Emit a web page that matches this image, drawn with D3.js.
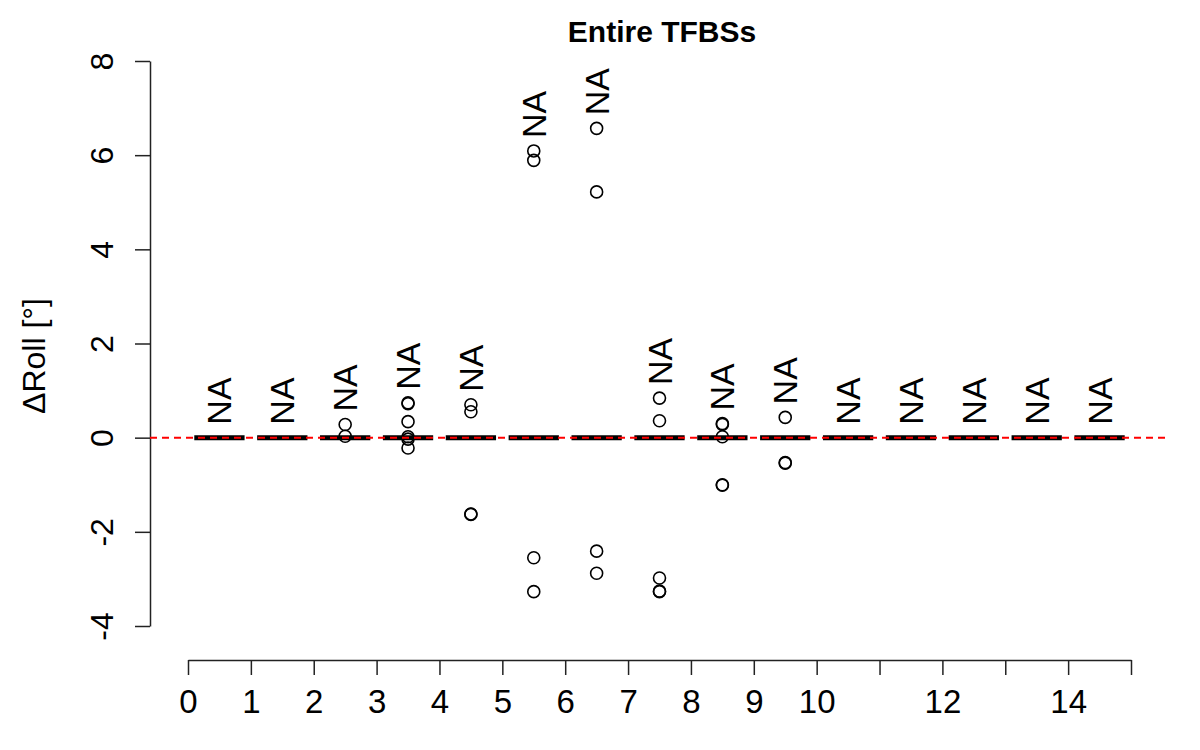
<!DOCTYPE html>
<html>
<head>
<meta charset="utf-8">
<script src="https://cdn.jsdelivr.net/npm/d3@7"></script>
<style>
  html, body { margin: 0; padding: 0; background: #fff; }
  svg { display: block; font-family: "Liberation Sans", Arial, Helvetica, sans-serif; }
</style>
</head>
<body>
<svg id="chart" width="1200" height="750"></svg>
<script>
// ---- data ----
const title = "Entire TFBSs";
const yLabel = "\u0394Roll [\u00b0]";
const groupPositions = [0.5, 1.5, 2.5, 3.5, 4.5, 5.5, 6.5, 7.5, 8.5, 9.5, 10.5, 11.5, 12.5, 13.5, 14.5];
const boxLower  = [0, 0, 0, 0, 0, 0, 0, 0, 0, 0, 0, 0, 0, 0, 0];
const boxMedian = [0, 0, 0, 0, 0, 0, 0, 0, 0, 0, 0, 0, 0, 0, 0];
const boxUpper  = [0, 0, 0, 0, 0, 0, 0, 0, 0, 0, 0, 0, 0, 0, 0];
const outliers = [
  [],
  [],
  [0.28, 0.03],
  [0.74, 0.72, 0.34, 0.02, -0.03, -0.22],
  [0.70, 0.55, -1.62, -1.63],
  [6.09, 5.89, -2.55, -3.27],
  [6.57, 5.22, -2.41, -2.88],
  [0.84, 0.36, -2.98, -3.26, -3.27],
  [0.30, 0.28, 0.02, -1.00, -1.01],
  [0.43, -0.53, -0.54],
  [],
  [],
  [],
  [],
  []
];
const naLabels = ["NA","NA","NA","NA","NA","NA","NA","NA","NA","NA","NA","NA","NA","NA","NA"];
const yTicks = [-4, -2, 0, 2, 4, 6, 8];
const yTickLabels = ["-4", "-2", "0", "2", "4", "6", "8"];
const xTicks = [0, 1, 2, 3, 4, 5, 6, 7, 8, 9, 10, 11, 12, 13, 14, 15];
const xTickLabels = ["0","1","2","3","4","5","6","7","8","9","10","","12","","14",""];
const refLine = 0;

// ---- layout ----
const svg = d3.select("#chart");
const x = d3.scaleLinear().domain([0, 15]).range([188, 1131]);
const y = d3.scaleLinear().domain([-4, 8]).range([626, 61]);
const plotLeft = 150, plotRight = 1170;
const boxW = (x(1) - x(0)) * 0.8;

// title
svg.append("text")
  .attr("x", 662).attr("y", 42)
  .attr("text-anchor", "middle")
  .attr("font-size", 30).attr("font-weight", "bold")
  .text(title);

// y axis
const yAxisG = svg.append("g").attr("transform", `translate(${plotLeft},0)`)
  .call(d3.axisLeft(y).tickValues(yTicks).tickSize(15).tickSizeOuter(0)
        .tickFormat((d, i) => yTickLabels[i]));
yAxisG.select(".domain").attr("stroke", "#222").attr("stroke-width", 1.5);
yAxisG.selectAll(".tick line").attr("stroke", "#222").attr("stroke-width", 1.5);
yAxisG.selectAll(".tick text")
  .attr("font-size", 32).attr("fill", "#000")
  .attr("x", 0).attr("y", 0).attr("dy", 0)
  .attr("text-anchor", "middle")
  .attr("transform", "translate(-37,0) rotate(-90)");

// y label
svg.append("text")
  .attr("transform", `translate(45,356) rotate(-90)`)
  .attr("text-anchor", "middle")
  .attr("font-size", 32)
  .text(yLabel);

// x axis
const xAxisG = svg.append("g").attr("transform", `translate(0,660)`)
  .call(d3.axisBottom(x).tickValues(xTicks).tickSize(15).tickSizeOuter(0)
        .tickFormat((d, i) => xTickLabels[i]));
xAxisG.select(".domain").attr("stroke", "#222").attr("stroke-width", 1.5);
xAxisG.selectAll(".tick line").attr("stroke", "#222").attr("stroke-width", 1.5);
xAxisG.selectAll(".tick text")
  .attr("font-size", 33).attr("fill", "#000")
  .attr("y", 53).attr("dy", 0);

// boxes
const boxes = svg.append("g");
groupPositions.forEach((p, i) => {
  const cx = x(p);
  boxes.append("rect")
    .attr("x", cx - boxW / 2).attr("width", boxW)
    .attr("y", y(boxUpper[i])).attr("height", Math.max(0, y(boxLower[i]) - y(boxUpper[i])))
    .attr("fill", "none").attr("stroke", "#000").attr("stroke-width", 1.5);
  boxes.append("line")
    .attr("x1", cx - boxW / 2).attr("x2", cx + boxW / 2)
    .attr("y1", y(boxMedian[i])).attr("y2", y(boxMedian[i]))
    .attr("stroke", "#000").attr("stroke-width", 5);
  outliers[i].forEach(v => {
    boxes.append("circle")
      .attr("cx", cx).attr("cy", y(v)).attr("r", 6)
      .attr("fill", "none").attr("stroke", "#000").attr("stroke-width", 1.6);
  });
  const top = d3.max([boxUpper[i], ...outliers[i]]);
  boxes.append("text")
    .attr("transform", `translate(${cx + 12},${y(top) - 13}) rotate(-90)`)
    .attr("text-anchor", "start")
    .attr("font-size", 34)
    .text(naLabels[i]);
});

// reference line
svg.append("line")
  .attr("x1", plotLeft).attr("x2", plotRight)
  .attr("y1", y(refLine)).attr("y2", y(refLine))
  .attr("stroke", "#ff0000").attr("stroke-width", 2)
  .attr("stroke-dasharray", "7,5");
</script>
</body>
</html>
